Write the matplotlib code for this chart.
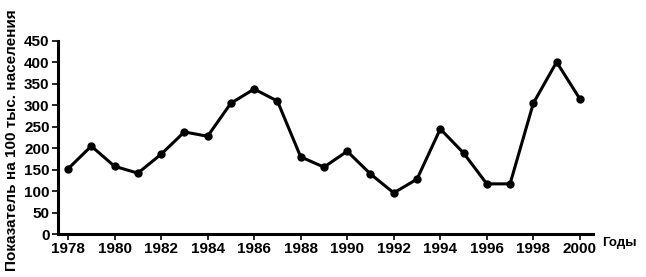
import matplotlib.pyplot as plt

years = list(range(1978, 2001))
values = [152, 205, 158, 142, 186, 238, 228, 305, 338, 310, 180, 156, 193,
          140, 96, 128, 245, 189, 117, 117, 305, 401, 315]
xticks = list(range(1978, 2001, 2))
yticks = list(range(0, 451, 50))

plt.rcParams['font.family'] = ['Liberation Sans', 'DejaVu Sans']

fig = plt.figure(figsize=(6.46, 2.77), dpi=100)
ax = fig.add_axes([0.0898, 0.155, 0.828, 0.697])
ax.plot(years, values, color='black', linewidth=2.2, marker='o', markersize=5)

ax.set_xlim(1977.57, 2000.56)
ax.set_ylim(0, 450)
ax.set_xticks(xticks)
ax.set_yticks(yticks)
ax.tick_params(axis='both', labelsize=11, width=1.2, length=4, pad=2)
for lab in ax.get_xticklabels() + ax.get_yticklabels():
    lab.set_fontweight('bold')

for side in ['top', 'right']:
    ax.spines[side].set_visible(False)
for side in ['left', 'bottom']:
    ax.spines[side].set_linewidth(2.2)

ax.set_ylabel('Показатель на 100 тыс. населения', fontsize=11, fontweight='bold')
ax.yaxis.set_label_coords(-0.072, 0.487)
fig.text(0.932, 0.122, 'Годы', fontsize=9.5, fontweight='bold', va='center', ha='left')

fig.savefig('out.png', dpi=100)
